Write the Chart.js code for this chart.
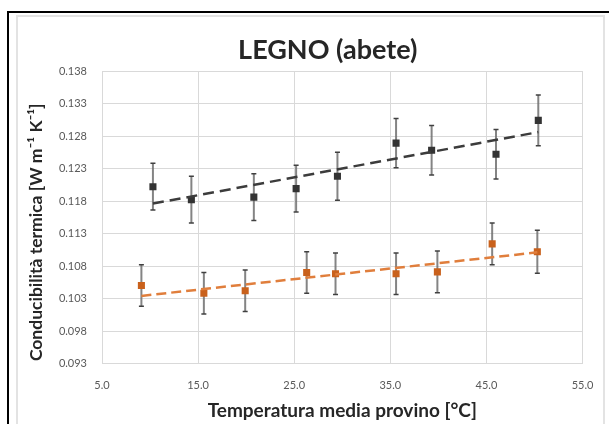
<!DOCTYPE html>
<html>
<head>
<meta charset="utf-8">
<script src="https://cdn.jsdelivr.net/npm/chart.js@4/dist/chart.umd.min.js"></script>
<style>
html, body { margin:0; padding:0; background:#fff; width:609px; height:424px; overflow:hidden; }
#outer { position:absolute; left:7px; top:11px; width:620px; height:430px; border-top:2px solid #000; border-left:2px solid #000; }
#inner { position:absolute; left:16px; top:15px; width:585px; height:430px; border:2px solid #e3e3e3; }
canvas { position:absolute; left:0; top:0; }
</style>
</head>
<body>
<div id="outer"></div>
<div id="inner"></div>
<canvas id="c" width="609" height="424"></canvas>
<script>
// ---- data ----
const xTicks = [5, 15, 25, 35, 45, 55];
const yTicks = [0.093, 0.098, 0.103, 0.108, 0.113, 0.118, 0.123, 0.128, 0.133, 0.138];

const xBlack   = [10.3, 14.3, 20.8, 25.2, 29.5, 35.6, 39.3, 46.0, 50.4];
const yBlack   = [0.1202, 0.1182, 0.1186, 0.1199, 0.1218, 0.1269, 0.1258, 0.1252, 0.1304];
const errBlack = [0.0036, 0.0036, 0.0036, 0.0036, 0.0037, 0.0038, 0.0038, 0.0038, 0.0039];

const xOrange   = [9.1, 15.6, 19.9, 26.3, 29.3, 35.6, 39.9, 45.6, 50.3];
const yOrange   = [0.1050, 0.1038, 0.1042, 0.1070, 0.1068, 0.1068, 0.1071, 0.1114, 0.1102];
const errOrange = [0.0032, 0.0032, 0.0032, 0.0032, 0.0032, 0.0032, 0.0032, 0.0032, 0.0033];

const trendBlackX  = [10.3, 50.4];
const trendBlackY  = [0.1176, 0.1286];
const trendOrangeX = [9.1, 50.3];
const trendOrangeY = [0.1034, 0.1101];

const chartTitle = 'LEGNO (abete)';
const xTitle = 'Temperatura media provino [°C]';
const yTitle = 'Conducibilità termica [W m⁻¹ K⁻¹]';

// ---- helpers ----
function pts(xs, ys) { return xs.map((x, i) => ({ x: x, y: ys[i] })); }
function errPts(xs, ys, es) {
  const out = [];
  xs.forEach((x, i) => {
    out.push({ x: x, y: ys[i] - es[i] }, { x: x, y: ys[i] + es[i] }, { x: x, y: null });
  });
  return out;
}

const FONT = 'Lato, "Open Sans", "DejaVu Sans", sans-serif';

const shiftTitle = {
  id: 'shiftTitle',
  afterLayout(chart) {
    const t = chart.titleBlock;
    if (t) { t.left += 28; t.right += 28; }
  }
};

// y-axis title, placed as in the reference (slightly below the plot centre)
const yAxisTitle = {
  id: 'yAxisTitle',
  afterDraw(chart) {
    const ctx = chart.ctx;
    const a = chart.chartArea;
    ctx.save();
    ctx.translate(36.5, (a.top + a.bottom) / 2 + 15);
    ctx.rotate(-Math.PI / 2);
    ctx.font = 'bold 17.5px ' + FONT;
    ctx.fillStyle = '#262626';
    ctx.textAlign = 'center';
    ctx.textBaseline = 'middle';
    ctx.fillText(yTitle, 0, 0);
    ctx.restore();
  }
};

const errStyle = {
  showLine: true, spanGaps: false,
  borderColor: 'rgba(110,110,110,0.85)', borderWidth: 2,
  pointStyle: 'line', pointRadius: 2.5, pointBorderColor: '#404040', pointBorderWidth: 1.5,
  order: 3
};

new Chart(document.getElementById('c'), {
  type: 'scatter',
  data: {
    datasets: [
      Object.assign({ label: 'err1', data: errPts(xBlack, yBlack, errBlack) }, errStyle),
      Object.assign({ label: 'err2', data: errPts(xOrange, yOrange, errOrange) }, errStyle),
      { label: 'Serie 1', data: pts(xBlack, yBlack), pointStyle: 'rect', pointRadius: 5,
        backgroundColor: '#333333', borderColor: '#333333', borderWidth: 0, order: 2 },
      { label: 'Serie 2', data: pts(xOrange, yOrange), pointStyle: 'rect', pointRadius: 5,
        backgroundColor: '#C9611C', borderColor: '#C9611C', borderWidth: 0, order: 2 },
      { label: 'Trend 1', data: pts(trendBlackX, trendBlackY), showLine: true, pointRadius: 0,
        borderColor: '#3c3c3c', borderWidth: 2.5, borderDash: [11, 6], order: 1 },
      { label: 'Trend 2', data: pts(trendOrangeX, trendOrangeY), showLine: true, pointRadius: 0,
        borderColor: '#E07E3C', borderWidth: 2.5, borderDash: [10, 5], order: 1 }
    ]
  },
  options: {
    responsive: false,
    animation: false,
    devicePixelRatio: 1,
    layout: { padding: { left: 17, right: 26.5, top: 0, bottom: 0 } },
    plugins: {
      legend: { display: false },
      tooltip: { enabled: false },
      title: {
        display: true, text: chartTitle, color: '#262626',
        font: { family: FONT, size: 27, weight: 'bold', lineHeight: 1.2 },
        padding: { top: 33.8, bottom: 4.8 }
      }
    },
    scales: {
      x: {
        type: 'linear', min: 5, max: 55,
        afterBuildTicks(s) { s.ticks = xTicks.map(v => ({ value: v })); },
        afterFit(s) { s.height = 60.5; },
        grid: { color: '#d9d9d9', drawTicks: false },
        border: { color: '#d9d9d9' },
        ticks: { padding: 15, color: '#595959', font: { family: FONT, size: 11 },
                 maxRotation: 0, autoSkip: false, callback: v => Number(v).toFixed(1) },
        title: { display: true, text: xTitle, color: '#262626',
                 font: { family: FONT, size: 19, weight: 'bold', lineHeight: 1.2 },
                 padding: { top: 0, bottom: 1.6 } }
      },
      y: {
        type: 'linear', min: 0.093, max: 0.138,
        afterBuildTicks(s) { s.ticks = yTicks.map(v => ({ value: v })); },
        afterFit(s) { s.width = 85; },
        grid: { color: '#d9d9d9', drawTicks: false },
        border: { color: '#d9d9d9' },
        ticks: { padding: 15, color: '#595959', font: { family: FONT, size: 11 },
                 autoSkip: false, callback: v => Number(v).toFixed(3) },
        title: { display: false, text: yTitle }
      }
    }
  },
  plugins: [shiftTitle, yAxisTitle]
});
</script>
</body>
</html>
